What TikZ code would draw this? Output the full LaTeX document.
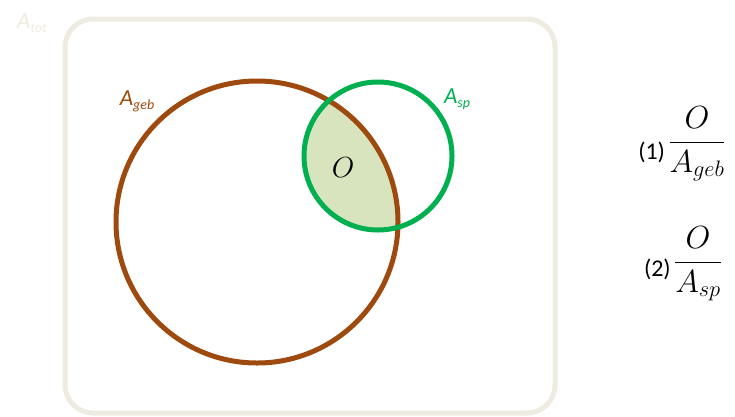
\RequirePackage{fix-cm}
\documentclass[tikz,border=0pt]{standalone}
\usepackage{fontspec}
\setmainfont{Carlito}
\usetikzlibrary{positioning}
\definecolor{cbrown}{HTML}{9E4A0F}
\definecolor{cgreen}{HTML}{00B050}
\definecolor{cfill}{HTML}{D7E4BD}
\definecolor{cframe}{HTML}{EEECE1}
\newcommand{\lowsub}[1]{\raisebox{-0.35ex}{\fontsize{14}{14}\selectfont #1}}
\tikzset{
  ring/.style={draw=#1, line width=5pt},
  lbl/.style={text=#1, inner sep=0pt, font=\itshape\fontsize{23}{26}\selectfont},
  frac/.style={inner sep=0pt, font=\fontsize{32}{36}\selectfont},
  num/.style={inner sep=0pt, font=\fontsize{24}{26}\selectfont},
}
\begin{document}
\begin{tikzpicture}[x=1pt, y=-1pt]
  \useasboundingbox (0,0) rectangle (735,416);
  % frame for A_tot
  \draw[draw=cframe, line width=5pt, rounded corners=28pt] (65,19) rectangle (555,413);
  \node[lbl=cframe] (tot) at (32,23) {A\lowsub{tot}};
  % overlap
  \begin{scope}
    \clip (257,222) circle (141pt);
    \fill[cfill] (378,156) circle (74pt);
  \end{scope}
  \draw[ring=cbrown] (257,222) circle (141pt);
  \draw[ring=cgreen] (378,156) circle (74pt);
  \node[lbl=cbrown] (geb) at (137,101) {A\lowsub{geb}};
  \node[lbl=cgreen] (sp) at (457,99) {A\lowsub{sp}};
  \node[inner sep=0pt, font=\fontsize{29}{32}\selectfont] (o) at (343,168) {$O$};
  % ratios
  \node[frac] (f1) at (697,144) {$\displaystyle\frac{O}{A_{geb}}$};
  \node[num, left=3pt of f1, yshift=-8pt] (n1) {(1)};
  \node[frac] (f2) at (698,264) {$\displaystyle\frac{O}{A_{sp}}$};
  \node[num, left=3pt of f2, yshift=-5pt] (n2) {(2)};
\end{tikzpicture}
\end{document}
